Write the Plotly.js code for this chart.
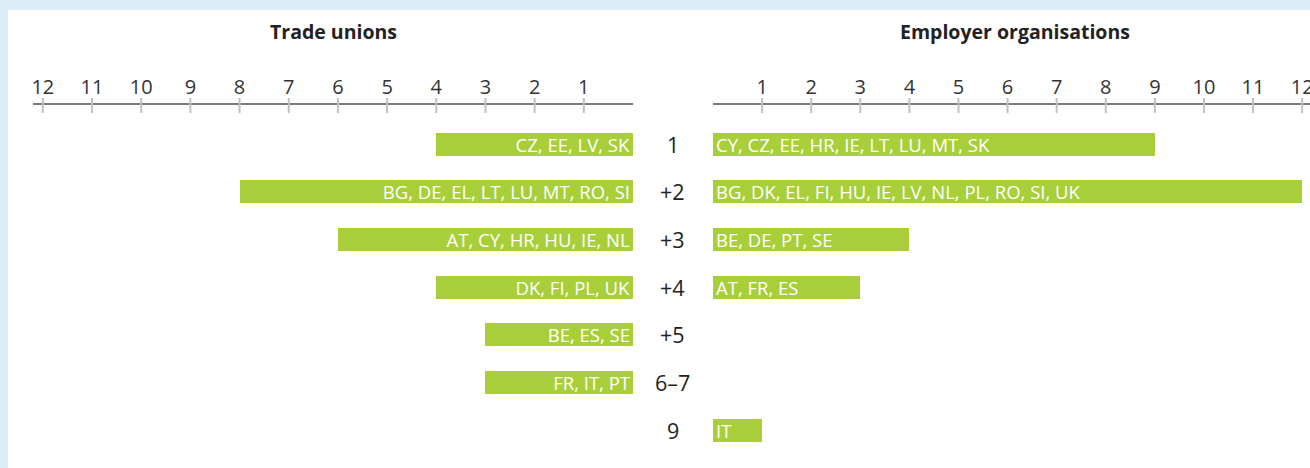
<!DOCTYPE html>
<html>
<head>
<meta charset="utf-8">
<script src="https://cdn.plot.ly/plotly-3.0.1.min.js"></script>
<style>html,body{margin:0;padding:0;background:#dbedf7;}#chart{width:1310px;height:468px;}</style>
</head>
<body>
<div id="chart"></div>
<script>
const levels = ["1", "+2", "+3", "+4", "+5", "6–7", "9"];
const unionCounts = [4, 8, 6, 4, 3, 3, 0];
const unionCountries = ["CZ, EE, LV, SK", "BG, DE, EL, LT, LU, MT, RO, SI", "AT, CY, HR, HU, IE, NL", "DK, FI, PL, UK", "BE, ES, SE", "FR, IT, PT", ""];
const employerCounts = [9, 12, 4, 3, 0, 0, 1];
const employerCountries = ["CY, CZ, EE, HR, IE, LT, LU, MT, SK", "BG, DK, EL, FI, HU, IE, LV, NL, PL, RO, SI, UK", "BE, DE, PT, SE", "AT, FR, ES", "", "", "IT"];
const tickVals = [1,2,3,4,5,6,7,8,9,10,11,12];
const panelTitles = ["Trade unions", "Employer organisations"];

const FONT = "'Open Sans', 'Noto Sans', sans-serif";
const GREEN = "#a8cf3a";
const rows = levels.map((_, i) => i);

const barCommon = {
  type: "bar", orientation: "h", y: rows, base: 0, width: 0.48,
  marker: {color: GREEN, line: {width: 0}},
  textposition: "inside", insidetextanchor: "start", constraintext: "none", textangle: 0,
  insidetextfont: {family: FONT, size: 18.5, color: "#ffffff"},
  hoverinfo: "skip", cliponaxis: false
};

const traces = [
  Object.assign({}, barCommon, {x: unionCounts, text: unionCountries, xaxis: "x", yaxis: "y"}),
  Object.assign({}, barCommon, {x: employerCounts, text: employerCountries, xaxis: "x2", yaxis: "y2"})
];

const W = 1310;
const leftDom = [33 / W, 633 / W];
const rightDom = [713 / W, 1];

const axisCommon = {
  side: "top", showgrid: false, zeroline: false, showline: true,
  linecolor: "#7a7a7a", linewidth: 2.5,
  tickmode: "array", tickvals: tickVals, ticktext: tickVals.map(String),
  ticks: "", ticklabeloverflow: "allow",
  tickfont: {family: FONT, size: 20, color: "#333333"}, ticklabelstandoff: 1,
  fixedrange: true
};
const yCommon = {range: [6.5, -0.82], showgrid: false, zeroline: false, showline: false,
  showticklabels: false, ticks: "", fixedrange: true};

const shapes = [
  {type: "rect", xref: "paper", yref: "paper", x0: 8 / W, x1: 1.01, y0: -0.1, y1: 1 + 95 / 349,
   fillcolor: "#ffffff", line: {width: 0}, layer: "below"}
];
tickVals.forEach(v => {
  ["x", "x2"].forEach(ax => {
    shapes.push({type: "line", xref: ax, yref: "paper", ysizemode: "pixel", yanchor: 1,
      x0: v, x1: v, y0: -8, y1: 7, line: {color: "#c0c0c0", width: 2}, layer: "above"});
  });
});

const annotations = levels.map((t, i) => ({
  xref: "paper", yref: "y", x: 673 / W, y: i, text: t, showarrow: false,
  xanchor: "center", yanchor: "middle", font: {family: FONT, size: 21.5, color: "#222222"}
}));
annotations.push({xref: "paper", yref: "paper", x: (33 + 633) / 2 / W, y: 1 + 74 / 349,
  text: "<b>" + panelTitles[0] + "</b>", showarrow: false, xanchor: "center", yanchor: "middle",
  font: {family: FONT, size: 19.5, color: "#222222"}});
annotations.push({xref: "paper", yref: "paper", x: 1015 / W, y: 1 + 74 / 349,
  text: "<b>" + panelTitles[1] + "</b>", showarrow: false, xanchor: "center", yanchor: "middle",
  font: {family: FONT, size: 19.5, color: "#222222"}});

const layout = {
  width: 1310, height: 468,
  margin: {l: 0, r: 0, t: 105, b: 14, pad: 0},
  paper_bgcolor: "#dbedf7", plot_bgcolor: "rgba(0,0,0,0)",
  showlegend: false, bargap: 0,
  xaxis: Object.assign({}, axisCommon, {domain: leftDom, range: [12.2, 0], anchor: "y"}),
  xaxis2: Object.assign({}, axisCommon, {domain: rightDom, range: [0, 12.16], anchor: "y2"}),
  yaxis: Object.assign({}, yCommon, {anchor: "x"}),
  yaxis2: Object.assign({}, yCommon, {anchor: "x2"}),
  shapes: shapes, annotations: annotations
};

Plotly.newPlot("chart", traces, layout, {displayModeBar: false, staticPlot: true});
</script>
</body>
</html>
